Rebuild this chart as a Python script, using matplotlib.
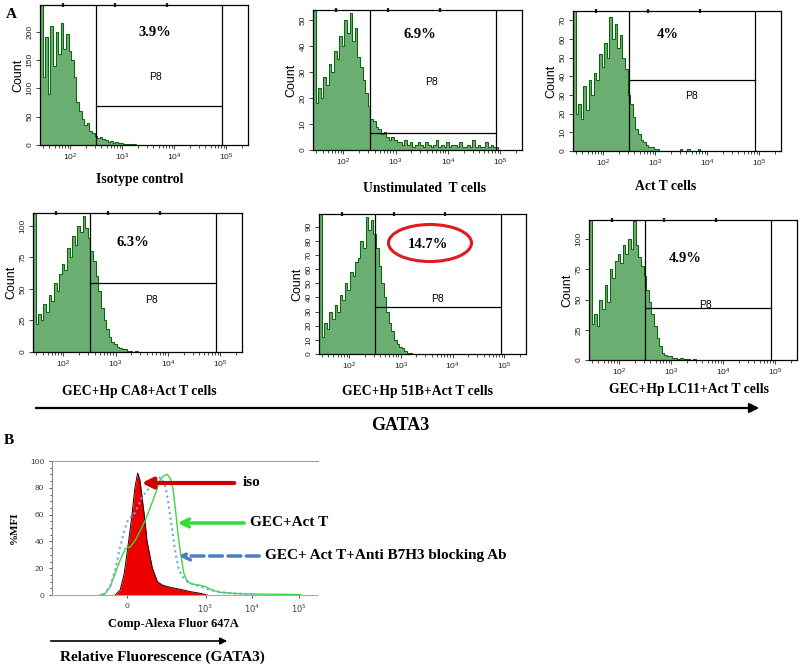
import numpy as np
import matplotlib
matplotlib.use("Agg")
import matplotlib.pyplot as plt
from matplotlib.patches import Ellipse, FancyArrowPatch
from matplotlib.ticker import LogLocator, MultipleLocator, NullFormatter

plt.rcParams["font.family"] = "Liberation Sans"
SERIF = "Liberation Serif"

# ---- panel A: GATA3 histograms, counts per 0.05-decade bin starting at 10^1.42
bin_start = 1.42
bin_step = 0.05

iso_counts = [300, 120, 190, 90, 210, 140, 200, 160, 215, 170, 195, 165, 150, 120,
              75, 60, 45, 35, 38, 25, 22, 16, 12, 14, 10, 8, 6, 7, 4, 5, 3, 3, 2, 2,
              1, 1, 1]
unstim_counts = [70, 18, 24, 20, 28, 25, 33, 30, 38, 35, 44, 40, 50, 45, 53, 42, 47,
                 36, 32, 27, 22, 17, 12, 11, 9, 8, 6, 7, 5, 4, 5, 4, 3, 3, 2, 4, 2, 3,
                 1, 2, 3, 2, 1, 3, 2, 1, 2, 4, 1, 2, 1, 3, 1, 2, 2, 1, 3, 1, 1, 2, 1,
                 4, 1, 2, 1, 1, 3, 1, 2, 1, 1]
act_counts = [90, 20, 25, 17, 35, 22, 38, 30, 42, 38, 52, 45, 58, 50, 72, 60, 68, 55,
              62, 50, 44, 30, 25, 18, 12, 9, 6, 5, 3, 2, 2, 1, 1, 0, 0, 0, 0, 0, 0, 0,
              0, 1, 0, 0, 1, 0, 0, 0, 1]
ca8_counts = [130, 22, 30, 25, 38, 32, 45, 40, 55, 48, 62, 70, 65, 82, 75, 92, 85, 100,
              95, 108, 98, 90, 80, 72, 60, 48, 35, 25, 18, 12, 8, 6, 4, 3, 2, 2, 1, 1,
              0, 1]
b51_counts = [120, 12, 22, 18, 30, 25, 35, 30, 42, 38, 50, 45, 58, 55, 65, 68, 80, 75,
              97, 88, 95, 85, 75, 62, 50, 40, 30, 22, 16, 10, 7, 5, 4, 2, 1, 1]
lc11_counts = [140, 30, 38, 28, 50, 42, 62, 48, 75, 68, 82, 88, 80, 95, 88, 100, 92,
               115, 95, 85, 78, 70, 58, 48, 38, 28, 18, 12, 6, 4, 3, 3, 2, 2, 1, 2, 1,
               1, 1, 0, 1]

titles = ["Isotype control", "Unstimulated  T cells", "Act T cells",
          "GEC+Hp CA8+Act T cells", "GEC+Hp 51B+Act T cells", "GEC+Hp LC11+Act T cells"]
percents = ["3.9%", "6.9%", "4%", "6.3%", "14.7%", "4.9%"]
y_max = [247, 54, 75, 110, 99, 116]
y_step = [50, 10, 10, 25, 10, 25]
gate_level = [68, 6.5, 38, 55, 33, 43]
gate_lo = 320
gate_hi = 85000

# ---- panel B: %MFI curves (Comp-Alexa Fluor 647A)
iso_x = [-39, -23, -10, 4, 15, 24, 33, 40, 47, 55, 63, 80, 96, 120, 180, 294, 479,
         782, 1086]
iso_y = [0, 3.7, 16, 40, 60, 80, 91, 86, 73, 58, 40, 20, 10, 7.4, 5.7, 4.2, 2.5, 1.2, 0]
gec_x = [-87, -71, -55, -39, -23, -6, 10, 26, 42, 58, 74, 90, 107, 130, 153, 180, 205,
         230, 258, 294, 346, 407, 520, 721, 1000, 1384, 2084, 4000, 10670, 46300, 105000]
gec_y = [0, 1.2, 6.2, 16, 26, 34.7, 36, 41, 48.4, 56, 65.8, 75.7, 85.6, 89, 90, 86.8,
         78, 63, 46, 31, 16, 9.9, 8.2, 7.4, 6.2, 3.7, 2, 1.2, 0.7, 0.5, 0.25]
blk_x = [-76, -55, -39, -23, -6, 4, 20, 33, 47, 63, 80, 93, 110, 141, 166, 195, 230,
         270, 346, 479, 782, 1276, 2084, 4000, 10670]
blk_y = [0, 6.2, 18.6, 36, 51, 57, 59.6, 65.8, 73, 78, 82, 85.6, 88, 80.6, 65.8, 48.4,
         31, 18.6, 12.4, 8.7, 6.2, 3.7, 2, 1.2, 0.5]

W, H = 800, 666
fig = plt.figure(figsize=(8, 6.66), dpi=100)


def add_ax(l, t, r, b):
    return fig.add_axes([l / W, 1 - b / H, (r - l) / W, (b - t) / H])


def ftext(x, y, s, **kw):
    fig.text(x / W, 1 - y / H, s, **kw)


def farrow(x0, y0, x1, y1, **kw):
    fig.add_artist(FancyArrowPatch((x0 / W, 1 - y0 / H), (x1 / W, 1 - y1 / H),
                                   transform=fig.transFigure, **kw))


rects = [(40, 5, 248, 145), (313, 10, 522, 150), (573, 11, 781, 151),
         (33, 213, 242, 352), (319, 214, 526, 354), (589, 220, 797, 360)]
title_pos = [(140, 180), (425, 188), (666, 186), (139, 391), (417, 391), (689, 390)]
pct_pos = [(155, 33), (420, 35), (668, 34), (133, 242), (428, 244), (685, 259)]
p8_pos = [(156, 77), (432, 82), (692, 96), (152, 300), (438, 299), (706, 305)]
all_counts = [iso_counts, unstim_counts, act_counts, ca8_counts, b51_counts, lc11_counts]

for i, counts in enumerate(all_counts):
    ax = add_ax(*rects[i])
    edges = 10 ** (bin_start + bin_step * np.arange(len(counts) + 1))
    ax.stairs(counts, edges, fill=True, color="#6aae72", lw=0)
    ax.stairs(counts, edges, color="#0a670a", lw=0.75)
    ax.set_xscale("log")
    ax.set_xlim(10 ** 1.42, 10 ** 5.42)
    ax.set_ylim(0, y_max[i])
    ax.axvline(gate_lo, color="k", lw=0.9)
    ax.axvline(gate_hi, color="k", lw=0.9)
    ax.plot([gate_lo, gate_hi], [gate_level[i], gate_level[i]], color="k", lw=0.9)
    ax.set_xticks([1e2, 1e3, 1e4, 1e5])
    ax.xaxis.set_minor_locator(LogLocator(subs=np.arange(2, 10)))
    ax.xaxis.set_minor_formatter(NullFormatter())
    ax.yaxis.set_major_locator(MultipleLocator(y_step[i]))
    ax.tick_params(labelsize=6, length=3, width=0.6, colors="#222222", pad=1.5)
    ax.tick_params(which="minor", length=1.8, width=0.5)
    ax.tick_params(axis="y", labelrotation=90)
    for lab in ax.get_yticklabels():
        lab.set_va("center")
    ax.set_ylabel("Count", fontsize=9, labelpad=2)
    for sp in ax.spines.values():
        sp.set_linewidth(0.9)
    top = ax.secondary_xaxis("top")
    top.set_xticks([10 ** 1.86, 10 ** 2.86, 10 ** 3.86])
    top.set_xticklabels([])
    top.xaxis.set_minor_locator(plt.NullLocator())
    top.tick_params(direction="inout", length=2.5, width=1.6, colors="#222222")
    top.spines["top"].set_visible(False)
    ftext(*title_pos[i], titles[i], family=SERIF, weight="bold", fontsize=9.8,
          ha="center", va="center")
    ftext(*pct_pos[i], percents[i], family=SERIF, weight="bold", fontsize=10.5,
          ha="center", va="center")
    ftext(*p8_pos[i], "P8", fontsize=7.5, ha="center", va="center")

fig.add_artist(Ellipse((430 / W, 1 - 243 / H), 83 / W, 37 / H, transform=fig.transFigure,
                       fill=False, ec="#e3191c", lw=2.2))
ftext(6, 14, "A", family=SERIF, weight="bold", fontsize=11, ha="left", va="center")
farrow(33, 408, 762, 408, arrowstyle="-|>", mutation_scale=14, lw=1.6, color="k")
ftext(400, 425, "GATA3", family=SERIF, weight="bold", fontsize=13, ha="center", va="center")

# ---- panel B
ftext(4, 441, "B", family=SERIF, weight="bold", fontsize=11, ha="left", va="center")
bx = add_ax(52, 461, 318, 595)
bx.set_xscale("symlog", linthresh=100, linscale=0.6)
bx.set_xlim(-870, 2.5e5)
bx.set_ylim(0, 100)
bx.fill_between(iso_x, iso_y, color="#ee0000", lw=0)
bx.plot(iso_x, iso_y, color="#220000", lw=0.7)
bx.plot(gec_x, gec_y, color="#3ad83a", lw=1.0)
bx.plot(blk_x, blk_y, color="#6aa6e6", lw=1.5, ls=":")
bx.spines["right"].set_visible(False)
bx.spines["top"].set_color("#999999")
bx.spines["top"].set_linewidth(0.7)
bx.spines["left"].set_color("#888888")
bx.spines["bottom"].set_color("#aaaaaa")
bx.spines["bottom"].set_linestyle((0, (2, 1)))
bx.set_xticks([0, 1e3, 1e4, 1e5])
bx.set_xticklabels(["0", "$10^3$", "$10^4$", "$10^5$"])
bx.xaxis.set_minor_locator(plt.NullLocator())
bx.yaxis.set_major_locator(MultipleLocator(20))
bx.yaxis.set_minor_locator(MultipleLocator(5))
bx.tick_params(labelsize=6, length=2.5, width=0.6, colors="#444444", pad=3)
bx.tick_params(which="minor", length=1.5, width=0.5)
bx.set_ylabel("%MFI", family=SERIF, weight="bold", fontsize=8, labelpad=8)

farrow(237, 483, 139, 483, arrowstyle="-|>", mutation_scale=16, lw=3, color="#cc0000")
ftext(243, 483, "iso", family=SERIF, weight="bold", fontsize=11, ha="left", va="center")
farrow(247, 523, 175, 523, arrowstyle="->", mutation_scale=14, lw=2.5, color="#33dd33")
ftext(250, 523, "GEC+Act T", family=SERIF, weight="bold", fontsize=11, ha="left", va="center")
farrow(262, 556, 176, 556, arrowstyle="->", mutation_scale=14, lw=2.5, color="#4a7fc1",
       linestyle="--")
ftext(265, 556, "GEC+ Act T+Anti B7H3 blocking Ab", family=SERIF, weight="bold",
      fontsize=11, ha="left", va="center")

ftext(173, 624, "Comp-Alexa Fluor 647A", family=SERIF, weight="bold", fontsize=9,
      ha="center", va="center")
farrow(48, 641, 230, 641, arrowstyle="-|>", mutation_scale=10, lw=1.2, color="k")
ftext(162, 657, "Relative Fluorescence (GATA3)", family=SERIF, weight="bold",
      fontsize=11, ha="center", va="center")

fig.savefig("out.png", dpi=100)
